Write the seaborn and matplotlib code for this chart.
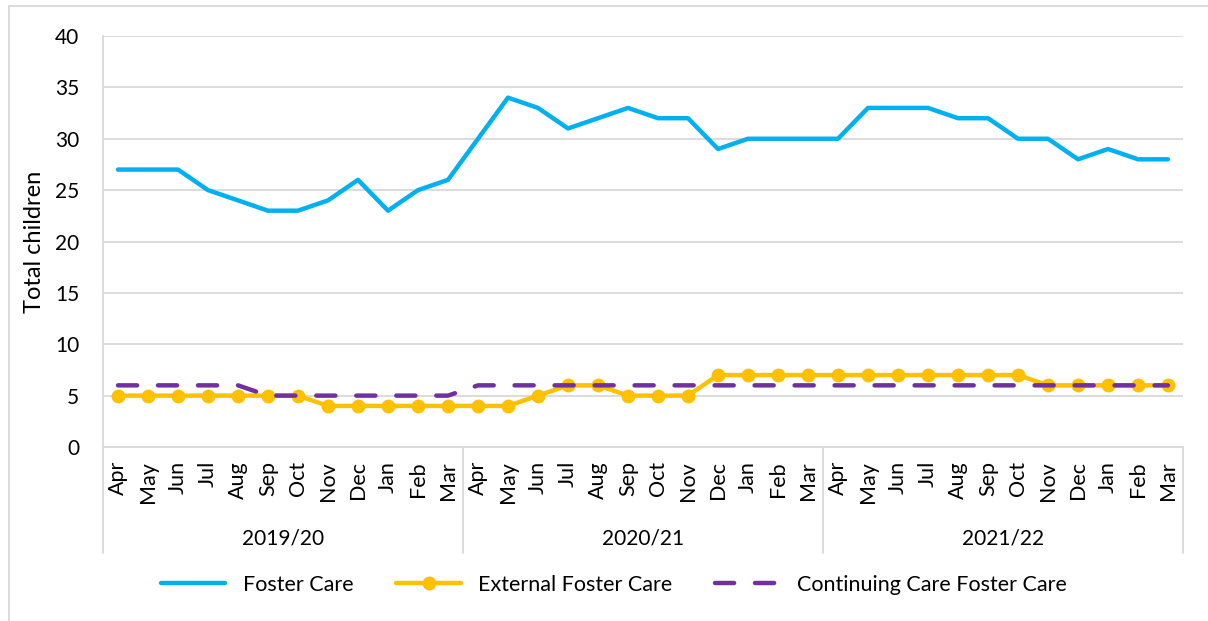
import numpy as np
import pandas as pd
import matplotlib
matplotlib.use("Agg")
import matplotlib.pyplot as plt
import seaborn as sns
from matplotlib.lines import Line2D

months = ["Apr", "May", "Jun", "Jul", "Aug", "Sep", "Oct", "Nov", "Dec", "Jan", "Feb", "Mar"]
years = ["2019/20", "2020/21", "2021/22"]

foster_care = [27, 27, 27, 25, 24, 23, 23, 24, 26, 23, 25, 26,
               30, 34, 33, 31, 32, 33, 32, 32, 29, 30, 30, 30,
               30, 33, 33, 33, 32, 32, 30, 30, 28, 29, 28, 28]
external_fc = [5, 5, 5, 5, 5, 5, 5, 4, 4, 4, 4, 4,
               4, 4, 5, 6, 6, 5, 5, 5, 7, 7, 7, 7,
               7, 7, 7, 7, 7, 7, 7, 6, 6, 6, 6, 6]
continuing_fc = [6, 6, 6, 6, 6, 5, 5, 5, 5, 5, 5, 5,
                 6, 6, 6, 6, 6, 6, 6, 6, 6, 6, 6, 6,
                 6, 6, 6, 6, 6, 6, 6, 6, 6, 6, 6, 6]

df = pd.DataFrame({
    "pos": np.arange(len(foster_care)),
    "month": months * len(years),
    "Foster Care": foster_care,
    "External Foster Care": external_fc,
    "Continuing Care Foster Care": continuing_fc,
})

sns.set_theme(style="white")
plt.rcParams['font.family'] = ['Lato', 'DejaVu Sans']
plt.rcParams['text.color'] = 'black'
plt.rcParams['axes.labelcolor'] = 'black'
plt.rcParams['xtick.color'] = 'black'
plt.rcParams['ytick.color'] = 'black'

fig = plt.figure(figsize=(12.08, 6.21), dpi=100)
ax = fig.add_axes([103 / 1208, 1 - 447 / 621, 1080 / 1208, 411 / 621])

sns.lineplot(data=df, x="pos", y="Foster Care", ax=ax, color="#00B0F0",
             linewidth=3.2, label="Foster Care", solid_capstyle="round", zorder=3)
sns.lineplot(data=df, x="pos", y="External Foster Care", ax=ax, color="#FFC000",
             linewidth=3.2, marker="o", markersize=10, markeredgewidth=0,
             label="External Foster Care", zorder=4)
sns.lineplot(data=df, x="pos", y="Continuing Care Foster Care", ax=ax, color="#7030A0",
             linewidth=3.2, label="Continuing Care Foster Care", zorder=5)
ax.lines[-1].set_dashes([4.3, 4.7])
ax.lines[-1].set_dash_capstyle("round")

ax.set_xlim(-0.5, len(foster_care) - 0.5)
ax.set_ylim(0, 40)
ax.set_yticks(range(0, 41, 5))
ax.set_ylabel("Total children", fontsize=17, labelpad=7)
ax.set_xlabel("")
ax.yaxis.grid(True, color="#D9D9D9", linewidth=1.3)
ax.tick_params(axis="y", labelsize=15, length=0, pad=17)
ax.set_xticks(df["pos"])
ax.set_xticklabels(df["month"], rotation=90, fontsize=15.5)
ax.tick_params(axis="x", length=0, pad=10)

for s in ["top", "right"]:
    ax.spines[s].set_visible(False)
for s in ["left", "bottom"]:
    ax.spines[s].set_color("#D9D9D9")
    ax.spines[s].set_linewidth(1.3)

# year group separators and labels
trans = ax.get_xaxis_transform()
for k in range(len(years) + 1):
    xb = k * len(months) - 0.5
    ax.plot([xb, xb], [0, -0.258], transform=trans, color="#D9D9D9",
            linewidth=1.3, clip_on=False)
for k, yr in enumerate(years):
    xc = k * len(months) + (len(months) - 1) / 2
    ax.text(xc, -0.222, yr, transform=trans, ha="center", va="center", fontsize=15)

handles, labels = ax.get_legend_handles_labels()
ax.legend(handles, labels, loc="center", bbox_to_anchor=(614 / 1208, 1 - 585 / 621),
          bbox_transform=fig.transFigure, ncol=3, frameon=False, fontsize=15.5,
          handlelength=3.0, columnspacing=2.0, handletextpad=0.8)

# outer chart border
fig.add_artist(Line2D([9 / 1208, 9 / 1208], [0, 1 - 6 / 621], color="#D9D9D9", linewidth=1.3))
fig.add_artist(Line2D([9 / 1208, 1], [1 - 6 / 621, 1 - 6 / 621], color="#D9D9D9", linewidth=1.3))

fig.savefig("out.png", dpi=100)
